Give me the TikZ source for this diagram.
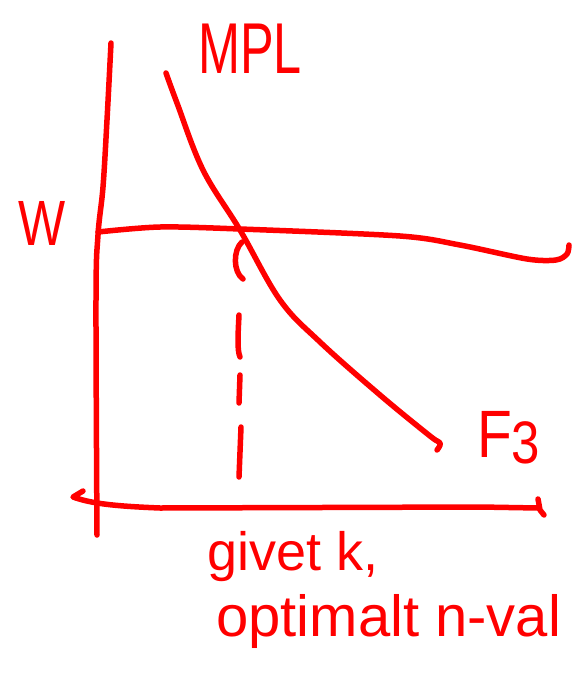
\documentclass[tikz,border=0pt]{standalone}
\usepackage{fontspec}
\setmainfont{Liberation Sans}
\begin{document}
\begin{tikzpicture}[x=1pt,y=-1pt,
  pen/.style={draw=red, line width=5.5pt, line cap=round, line join=round},
  hand/.style={text=red, inner sep=0pt}]
\useasboundingbox (0,0) rectangle (582,678);
% vertical axis
\draw[pen] plot[smooth, tension=0.6] coordinates {(111,43) (107,120) (103,187) (98,235) (96,300) (97,535)};
% horizontal axis
\draw[pen] (83,491) -- (73,497) .. controls (90,503) and (110,506) .. (160,508) -- (480,507) -- (538,508);
\draw[pen] (538,499) -- (540,510) -- (544,515);
% wage line
\draw[pen] plot[smooth, tension=0.5] coordinates {(98,232) (160,227) (240,229) (400,236) (460,245) (527,259) (556,260) (567,254) (569,245)};
% MPL curve
\draw[pen] plot[smooth, tension=0.6] coordinates {(166,73) (177,103) (203,170) (240,230) (280,300) (320,342) (380,395) (430,436) (440,443) (437,450)};
% dashed drop line
\draw[pen] (242,242) .. controls (233,250) and (233,272) .. (243,279);
\draw[pen] (239,315) .. controls (238,335) and (237,350) .. (240,357);
\draw[pen] (240,375) -- (239,403);
\draw[pen] (241,427) -- (239,477);
% labels
\node[hand, anchor=base west] (mpl) at (198,73) {\scalebox{0.7}[1]{\fontsize{72}{72}\selectfont MPL}};
\node[hand, anchor=base west] (w) at (18,245) {\scalebox{0.78}[1]{\fontsize{64}{64}\selectfont W}};
\node[hand, anchor=base west] (f3) at (477,457) {\scalebox{0.85}[1]{\fontsize{67}{67}\selectfont F\raisebox{-6pt}{\fontsize{60}{60}\selectfont 3}}};
\node[hand, anchor=base west] (l1) at (207,570) {\fontsize{54}{54}\selectfont givet k,};
\node[hand, anchor=base west] (l2) at (216,636) {\fontsize{58}{58}\selectfont optimalt n-val};
\end{tikzpicture}
\end{document}
